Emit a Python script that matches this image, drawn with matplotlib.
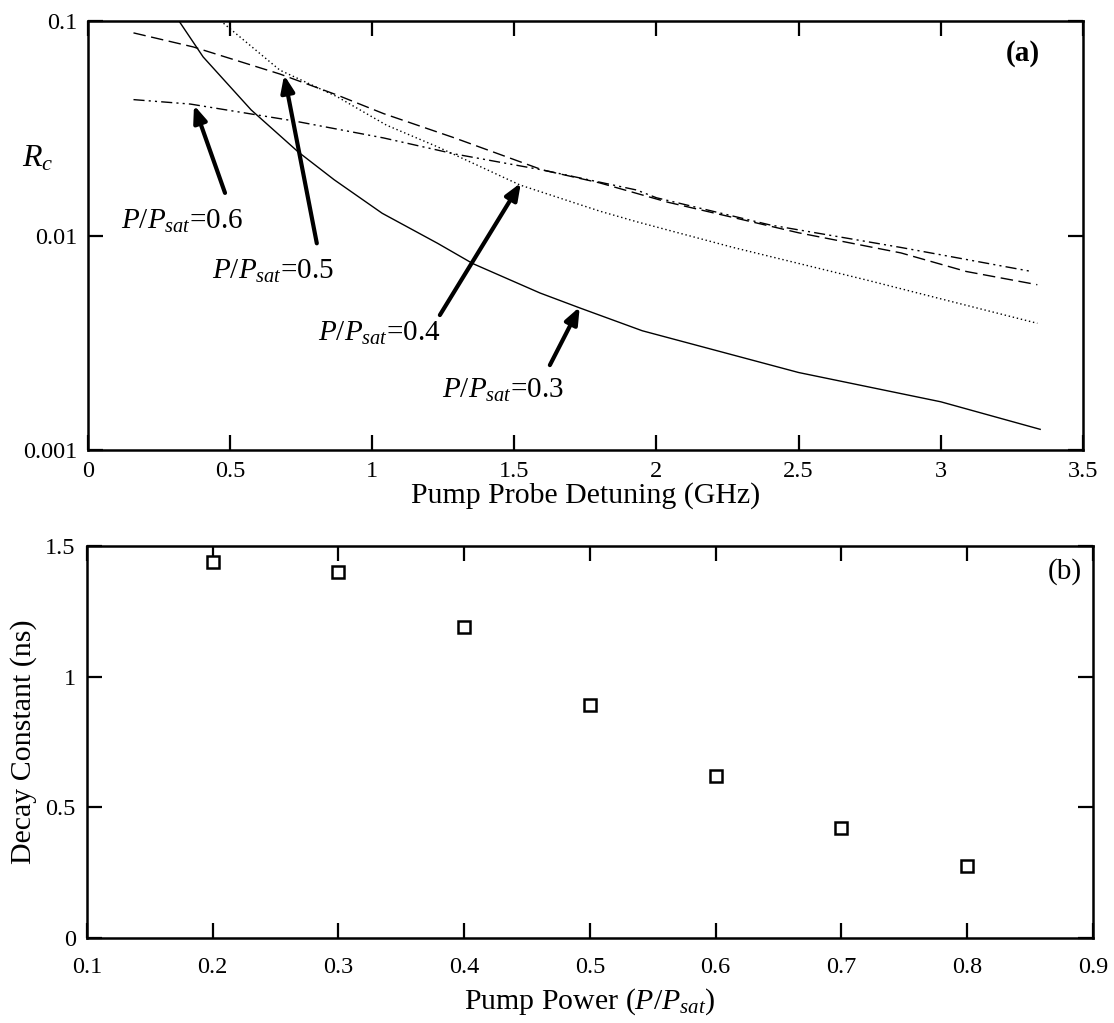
import numpy as np
import matplotlib
matplotlib.use("Agg")
import matplotlib.pyplot as plt
from matplotlib.ticker import FixedLocator, FixedFormatter, NullLocator

plt.rcParams['font.family'] = ['Liberation Serif', 'DejaVu Serif']
plt.rcParams['mathtext.fontset'] = 'custom'
plt.rcParams['mathtext.rm'] = 'Liberation Serif'
plt.rcParams['mathtext.it'] = 'Liberation Serif:italic'
plt.rcParams['mathtext.bf'] = 'Liberation Serif:bold'

# -----------------------------
# (a) Rc vs pump-probe detuning, one curve per pump power
# -----------------------------
det_03 = [0.30, 0.32, 0.405, 0.574, 0.74, 0.866, 1.035, 1.23, 1.354, 1.59, 1.73, 1.95, 2.5, 3.0, 3.35]
rc_03 = [0.105, 0.1, 0.068, 0.0385, 0.0245, 0.0182, 0.0127, 0.0092, 0.0074, 0.0054, 0.0046, 0.0036, 0.0023, 0.00168, 0.00125]

det_04 = [0.44, 0.475, 0.675, 0.876, 1.05, 1.23, 1.52, 1.80, 1.93, 2.27, 2.74, 3.34]
rc_04 = [0.105, 0.098, 0.059, 0.0444, 0.0327, 0.0259, 0.0172, 0.0130, 0.0116, 0.0088, 0.0062, 0.0039]

det_05 = [0.16, 0.37, 0.675, 0.876, 1.04, 1.29, 1.60, 1.80, 2.04, 2.50, 2.86, 3.09, 3.34]
rc_05 = [0.088, 0.0757, 0.0566, 0.0452, 0.037, 0.0285, 0.0202, 0.0176, 0.0143, 0.0103, 0.0083, 0.0068, 0.0059]

det_06 = [0.16, 0.36, 0.725, 1.04, 1.29, 1.60, 1.93, 2.0, 2.4, 2.86, 3.32]
rc_06 = [0.043, 0.041, 0.0342, 0.0285, 0.024, 0.0202, 0.0163, 0.0150, 0.0112, 0.0088, 0.0068]

# -----------------------------
# (b) decay constant vs pump power
# -----------------------------
pump_power = [0.2, 0.3, 0.4, 0.5, 0.6, 0.7, 0.8]
decay_ns = [1.44, 1.40, 1.19, 0.89, 0.62, 0.42, 0.275]

xticks_a = [0, 0.5, 1, 1.5, 2, 2.5, 3, 3.5]
xticklabels_a = ['0', '0.5', '1', '1.5', '2', '2.5', '3', '3.5']
yticks_a = [0.001, 0.01, 0.1]
yticklabels_a = ['0.001', '0.01', '0.1']
xticks_b = [0.1, 0.2, 0.3, 0.4, 0.5, 0.6, 0.7, 0.8, 0.9]
xticklabels_b = ['0.1', '0.2', '0.3', '0.4', '0.5', '0.6', '0.7', '0.8', '0.9']
yticks_b = [0, 0.5, 1, 1.5]
yticklabels_b = ['0', '0.5', '1', '1.5']

fig = plt.figure(figsize=(11.14, 10.23), dpi=100)
ax1 = fig.add_axes([0.079, 0.560, 0.893, 0.4195])
ax2 = fig.add_axes([0.078, 0.0831, 0.903, 0.3832])


def style_axes(ax, pad=8):
    for sp in ax.spines.values():
        sp.set_linewidth(1.8)
    ax.tick_params(which='major', direction='in', length=11, width=1.6,
                   top=True, right=True, labelsize=17.5, pad=pad)
    ax.tick_params(which='minor', length=0)


# ---- panel (a)
ax1.plot(det_03, rc_03, color='k', lw=1.0, ls='-')
ax1.plot(det_04, rc_04, color='k', lw=1.0, ls=(0, (1, 2)))
ax1.plot(det_05, rc_05, color='k', lw=1.0, ls=(0, (9, 4)))
ax1.plot(det_06, rc_06, color='k', lw=1.0, ls=(0, (8, 3, 1.5, 3, 1.5, 3)))
ax1.set_yscale('log')
ax1.set_xlim(0, 3.5)
ax1.set_ylim(0.001, 0.1)
ax1.xaxis.set_major_locator(FixedLocator(xticks_a))
ax1.xaxis.set_major_formatter(FixedFormatter(xticklabels_a))
ax1.yaxis.set_major_locator(FixedLocator(yticks_a))
ax1.yaxis.set_major_formatter(FixedFormatter(yticklabels_a))
ax1.yaxis.set_minor_locator(NullLocator())
style_axes(ax1)
ax1.set_xlabel('Pump Probe Detuning (GHz)', fontsize=21.5, labelpad=0)
fig.text(0.020, 0.845, r'$R_c$', fontsize=23, ha='left', va='center')
ax1.text(0.94, 0.925, '(a)', transform=ax1.transAxes, fontsize=21,
         fontweight='bold', ha='center', va='center')

arrow_kw = dict(arrowstyle='-|>,head_length=1.0,head_width=0.4', lw=3.0,
                color='k', shrinkA=0, shrinkB=0)
labels = [
    (r'$P/P_{sat}$=0.6', (0.373, 0.0405), (0.482, 0.0158), (0.116, 0.0116)),
    (r'$P/P_{sat}$=0.5', (0.69, 0.056), (0.805, 0.0092), (0.436, 0.0068)),
    (r'$P/P_{sat}$=0.4', (1.523, 0.0176), (1.238, 0.00426), (0.809, 0.0035)),
    (r'$P/P_{sat}$=0.3', (1.73, 0.00465), (1.625, 0.00249), (1.245, 0.0019)),
]
for txt, tip, tail, pos in labels:
    ax1.annotate('', xy=tip, xytext=tail, arrowprops=arrow_kw)
    ax1.text(pos[0], pos[1], txt, fontsize=21, ha='left', va='center')

# ---- panel (b)
ax2.plot(pump_power, decay_ns, ls='none', marker='s', ms=9, mfc='white',
         mec='k', mew=1.8)
ax2.set_xlim(0.1, 0.9)
ax2.set_ylim(0, 1.5)
ax2.xaxis.set_major_locator(FixedLocator(xticks_b))
ax2.xaxis.set_major_formatter(FixedFormatter(xticklabels_b))
ax2.yaxis.set_major_locator(FixedLocator(yticks_b))
ax2.yaxis.set_major_formatter(FixedFormatter(yticklabels_b))
style_axes(ax2, pad=14)
ax2.tick_params(axis='y', pad=8)
ax2.set_xlabel(r'Pump Power ($P/P_{sat}$)', fontsize=21.5, labelpad=6)
ax2.set_ylabel('Decay Constant (ns)', fontsize=21.5, labelpad=6)
ax2.text(0.972, 0.935, '(b)', transform=ax2.transAxes, fontsize=21,
         ha='center', va='center')

fig.savefig('out.png', dpi=100)
